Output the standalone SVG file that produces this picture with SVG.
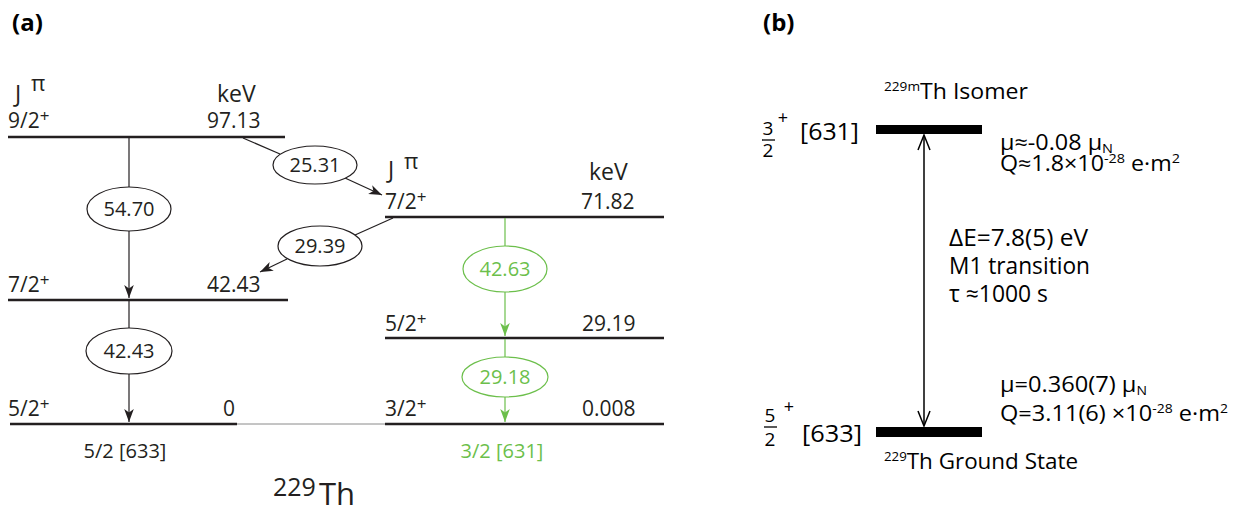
<svg xmlns="http://www.w3.org/2000/svg" width="1238" height="512" viewBox="0 0 1238 512">
<style>
  .t { font-family: "Open Sans", "Noto Sans", sans-serif; fill: #231f20; }
  .g { fill: #6cbf4b; }
  .b { font-family: "Open Sans", "Noto Sans", sans-serif; fill: #000; }
  .lvl { stroke: #231f20; stroke-width: 2.5; fill: none; }
  .tr { stroke: #231f20; stroke-width: 1.2; fill: none; }
  .trg { stroke: #6cbf4b; stroke-width: 1.2; fill: none; }
  .ell { stroke: #231f20; stroke-width: 1.2; fill: #fff; }
  .ellg { stroke: #6cbf4b; stroke-width: 1.2; fill: #fff; }
</style>
<defs>
  <marker id="ah" markerUnits="userSpaceOnUse" markerWidth="16" markerHeight="12" viewBox="-14 -6 16 12" refX="0" refY="0" orient="auto">
    <path d="M0,0 L-13,-4.8 L-9.5,0 L-13,4.8 Z" fill="#231f20"/>
  </marker>
  <marker id="ahg" markerUnits="userSpaceOnUse" markerWidth="16" markerHeight="12" viewBox="-14 -6 16 12" refX="0" refY="0" orient="auto">
    <path d="M0,0 L-13,-4.8 L-9.5,0 L-13,4.8 Z" fill="#6cbf4b"/>
  </marker>
</defs>
<rect width="1238" height="512" fill="#fff"/>

<!-- Panel (a) -->
<text class="b" x="12" y="31" font-size="24" font-weight="bold">(a)</text>

<g id="header-left">
  <text class="t" x="15" y="102" font-size="23">J</text>
  <text class="t" x="31" y="91" font-size="22">π</text>
  <text class="t" x="217" y="102" font-size="23">keV</text>
</g>
<g id="header-right">
  <text class="t" x="388" y="178" font-size="23">J</text>
  <text class="t" x="404" y="169" font-size="22">π</text>
  <text class="t" x="589" y="180" font-size="23">keV</text>
</g>

<g id="level-97">
  <line class="lvl" x1="8" y1="137" x2="285" y2="137"/>
  <text class="t" x="8" y="128" font-size="21">9/2<tspan dy="-6" font-size="17">+</tspan></text>
  <text class="t" x="207" y="128" font-size="21">97.13</text>
</g>
<g id="level-42">
  <line class="lvl" x1="8" y1="300" x2="288" y2="300"/>
  <text class="t" x="8" y="292" font-size="21">7/2<tspan dy="-6" font-size="17">+</tspan></text>
  <text class="t" x="207" y="292" font-size="21">42.43</text>
</g>
<g id="level-0">
  <line class="lvl" x1="10" y1="424" x2="237" y2="424"/>
  <text class="t" x="8" y="416" font-size="21">5/2<tspan dy="-6" font-size="17">+</tspan></text>
  <text class="t" x="223" y="416" font-size="21">0</text>
  <text class="t" x="125" y="458" font-size="20" text-anchor="middle">5/2 [633]</text>
</g>
<g id="level-71">
  <line class="lvl" x1="385" y1="217" x2="664" y2="217"/>
  <text class="t" x="385" y="209" font-size="21">7/2<tspan dy="-6" font-size="17">+</tspan></text>
  <text class="t" x="581" y="209" font-size="21">71.82</text>
</g>
<g id="level-29">
  <line class="lvl" x1="385" y1="338" x2="664" y2="338"/>
  <text class="t" x="385" y="331" font-size="21">5/2<tspan dy="-6" font-size="17">+</tspan></text>
  <text class="t" x="582" y="331" font-size="21">29.19</text>
</g>
<g id="level-0008">
  <line class="lvl" x1="385" y1="424" x2="664" y2="424"/>
  <text class="t" x="385" y="416" font-size="21">3/2<tspan dy="-6" font-size="17">+</tspan></text>
  <text class="t" x="582" y="416" font-size="21">0.008</text>
  <text class="t g" x="502" y="458" font-size="20" text-anchor="middle">3/2 [631]</text>
</g>

<g id="connectors">
  <line x1="237" y1="424" x2="385" y2="424" stroke="#8a8a8a" stroke-width="1"/>
  <line class="tr" x1="129" y1="138" x2="129" y2="187"/>
  <line class="tr" x1="129" y1="231" x2="129" y2="298" marker-end="url(#ah)"/>
  <line class="tr" x1="129" y1="301" x2="129" y2="328"/>
  <line class="tr" x1="129" y1="374" x2="129" y2="422" marker-end="url(#ah)"/>
  <line class="tr" x1="243" y1="138" x2="280" y2="154"/>
  <line class="tr" x1="345" y1="178" x2="382" y2="195" marker-end="url(#ah)"/>
  <line class="tr" x1="393" y1="218" x2="355" y2="235"/>
  <line class="tr" x1="287" y1="259" x2="260" y2="272" marker-end="url(#ah)"/>
  <line class="trg" x1="505" y1="218" x2="505" y2="246"/>
  <line class="trg" x1="505" y1="292" x2="505" y2="336" marker-end="url(#ahg)"/>
  <line class="trg" x1="505" y1="339" x2="505" y2="357"/>
  <line class="trg" x1="505" y1="397" x2="505" y2="422" marker-end="url(#ahg)"/>
</g>

<g id="gamma-5470">
  <ellipse class="ell" cx="129" cy="209" rx="42" ry="22"/>
  <text class="t" x="129" y="216" font-size="20" text-anchor="middle">54.70</text>
</g>
<g id="gamma-4243">
  <ellipse class="ell" cx="129" cy="351" rx="43" ry="23"/>
  <text class="t" x="129" y="358" font-size="20" text-anchor="middle">42.43</text>
</g>
<g id="gamma-2531">
  <ellipse class="ell" cx="315" cy="165" rx="42" ry="19"/>
  <text class="t" x="315" y="172" font-size="20" text-anchor="middle">25.31</text>
</g>
<g id="gamma-2939">
  <ellipse class="ell" cx="320" cy="246" rx="42" ry="20"/>
  <text class="t" x="320" y="253" font-size="20" text-anchor="middle">29.39</text>
</g>
<g id="gamma-4263">
  <ellipse class="ellg" cx="505" cy="269" rx="42" ry="23"/>
  <text class="t g" x="505" y="276" font-size="20" text-anchor="middle">42.63</text>
</g>
<g id="gamma-2918">
  <ellipse class="ellg" cx="505" cy="377" rx="43" ry="20"/>
  <text class="t g" x="505" y="384" font-size="20" text-anchor="middle">29.18</text>
</g>

<g id="title-a">
  <text class="t" x="273" y="496" font-size="25">229</text>
  <text class="t" x="319" y="505" font-size="31">Th</text>
</g>

<!-- Panel (b) -->
<text class="b" x="763" y="31" font-size="24" font-weight="bold">(b)</text>

<g id="isomer">
  <text class="b" x="884" y="99" font-size="22" textLength="144" lengthAdjust="spacingAndGlyphs"><tspan font-size="13" dy="-8">229m</tspan><tspan dy="8">Th Isomer</tspan></text>
  <text class="b" x="768" y="135" font-size="19" text-anchor="middle">3</text>
  <line x1="762" y1="140" x2="775" y2="140" stroke="#000" stroke-width="1.3"/>
  <text class="b" x="768" y="157" font-size="19" text-anchor="middle">2</text>
  <text class="b" x="783" y="124" font-size="18" text-anchor="middle">+</text>
  <text class="b" x="800" y="140" font-size="23" textLength="59" lengthAdjust="spacingAndGlyphs">[631]</text>
  <rect x="876" y="125" width="106" height="9" fill="#000"/>
  <text class="b" x="1000" y="150" font-size="21" textLength="113" lengthAdjust="spacingAndGlyphs">μ≈-0.08 μ<tspan dy="3" font-size="13">N</tspan></text>
  <text class="b" x="1000" y="171" font-size="21" textLength="180" lengthAdjust="spacingAndGlyphs">Q≈1.8×10<tspan dy="-8" font-size="13">-28</tspan><tspan dy="8"> e·m</tspan><tspan dy="-8" font-size="13">2</tspan></text>
</g>

<g id="ground">
  <text class="b" x="770" y="422" font-size="19" text-anchor="middle">5</text>
  <line x1="764" y1="427" x2="777" y2="427" stroke="#000" stroke-width="1.3"/>
  <text class="b" x="770" y="446" font-size="19" text-anchor="middle">2</text>
  <text class="b" x="789" y="413" font-size="18" text-anchor="middle">+</text>
  <text class="b" x="802" y="442" font-size="23" textLength="60" lengthAdjust="spacingAndGlyphs">[633]</text>
  <rect x="876" y="427" width="106" height="10" fill="#000"/>
  <text class="b" x="884" y="469" font-size="22" textLength="194" lengthAdjust="spacingAndGlyphs"><tspan font-size="13" dy="-8">229</tspan><tspan dy="8">Th Ground State</tspan></text>
  <text class="b" x="1000" y="392" font-size="22" textLength="147" lengthAdjust="spacingAndGlyphs">μ=0.360(7) μ<tspan dy="3" font-size="13">N</tspan></text>
  <text class="b" x="1000" y="421" font-size="22" textLength="228" lengthAdjust="spacingAndGlyphs">Q=3.11(6) ×10<tspan dy="-8" font-size="13">-28</tspan><tspan dy="8"> e·m</tspan><tspan dy="-8" font-size="13">2</tspan></text>
</g>

<g id="transition">
  <text class="b" x="949" y="246" font-size="23" textLength="139" lengthAdjust="spacingAndGlyphs">ΔE=7.8(5) eV</text>
  <text class="b" x="949" y="274" font-size="23" textLength="141" lengthAdjust="spacingAndGlyphs">M1 transition</text>
  <text class="b" x="949" y="302" font-size="23" textLength="99" lengthAdjust="spacingAndGlyphs">τ ≈1000 s</text>
</g>

<g id="connectors-b">
  <line x1="924" y1="136" x2="924" y2="425" stroke="#000" stroke-width="1.5"/>
  <path d="M918,150 L924,135 L930,150" fill="none" stroke="#000" stroke-width="1.5"/>
  <path d="M918,411 L924,426 L930,411" fill="none" stroke="#000" stroke-width="1.5"/>
</g>
</svg>
